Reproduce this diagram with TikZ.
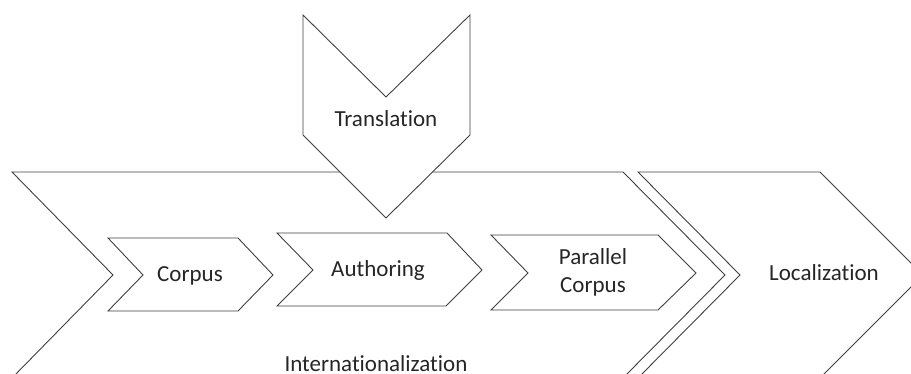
\documentclass[tikz,border=0pt]{standalone}
\usepackage{fontspec}
\setmainfont{Carlito}[Ligatures=NoCommon]
\tikzstyle{chevron}=[draw=black!75,line width=0.9pt,fill=white,line join=miter]
\tikzstyle{stage}=[font=\fontsize{23}{28}\selectfont,text=black!85,inner sep=0pt,anchor=base]
\usetikzlibrary{positioning}

\begin{document}
\begin{tikzpicture}[x=1pt,y=-1pt]
  \useasboundingbox (0,0) rectangle (911,374);
  \clip (0,0) rectangle (911,374);

  % outer stages
  \draw[chevron] (12,172) -- (623,172) -- (725,275) -- (623,378)
    -- (12,378) -- (113,275) -- cycle;
  \draw[chevron] (638,172) -- (820,172) -- (923,275) -- (820,378)
    -- (638,378) -- (740,275) -- cycle;

  % translation, coming in from above
  \draw[chevron] (303,15) -- (386,97) -- (470,15) -- (470,135)
    -- (386,218) -- (303,135) -- cycle;

  % inner steps
  \draw[chevron] (108,238) -- (238,238) -- (273,275) -- (238,311)
    -- (108,311) -- (143,275) -- cycle;
  \draw[chevron] (277,233) -- (447,233) -- (482,270) -- (446,306)
    -- (277,306) -- (313,270) -- cycle;
  \draw[chevron] (491,235) -- (658,235) -- (696,273) -- (658,310)
    -- (491,310) -- (528,273) -- cycle;

  \node[stage] (trans) at (386,127) {Translation};
  \node[stage] (corpus) at (190,282) {Corpus};
  \node[stage] (auth) at (378,277) {Authoring};
  \node[stage] (par) at (593,265) {Parallel};
  \node[stage] (parcorpus) at (593,293) {Corpus};
  \node[stage] (loc) at (824,280) {Localization};
  \node[stage,text depth=0pt] (intl) at (376,371) {Internationalization};
\end{tikzpicture}
\end{document}
